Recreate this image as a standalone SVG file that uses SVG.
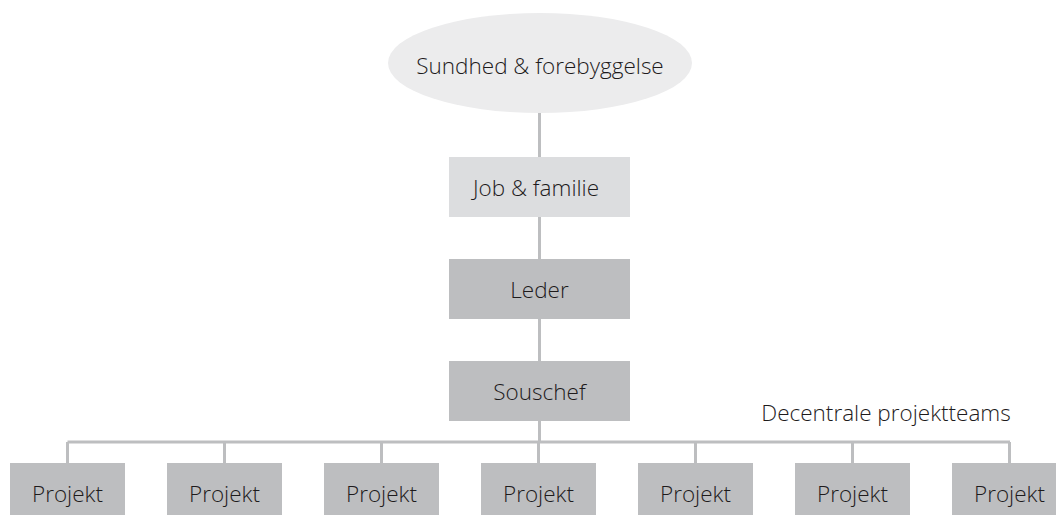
<svg xmlns="http://www.w3.org/2000/svg" width="1056" height="515" viewBox="0 0 1056 515">
  <style>
    .lbl { font-family: "Open Sans", "Noto Sans", sans-serif; font-size: 22.5px; font-weight: 300; fill: #1e1b1c; text-anchor: middle; }
    .oval { fill: #ececed; }
    .box-light { fill: #dcdddf; }
    .box { fill: #bdbec0; }
    .conn { stroke: #bdbec0; stroke-width: 3; fill: none; }
  </style>
  <rect width="1056" height="515" fill="#ffffff"/>
  <g id="connectors">
    <path class="conn" d="M539.5 112 V442"/>
    <path class="conn" d="M67.5 442 H1010"/>
    <path class="conn" d="M67.5 442 V463 M224.5 442 V463 M381.5 442 V463 M538.5 442 V463 M695.5 442 V463 M852.5 442 V463 M1009.5 442 V463"/>
  </g>
  <g id="sundhed">
    <ellipse class="oval" cx="540" cy="63" rx="152" ry="50"/>
    <text class="lbl" x="540" y="74">Sundhed &amp; forebyggelse</text>
  </g>
  <g id="job-familie">
    <rect class="box-light" x="449" y="157" width="181" height="60"/>
    <text class="lbl" x="536" y="196">Job &amp; familie</text>
  </g>
  <g id="leder">
    <rect class="box" x="449" y="259" width="181" height="60"/>
    <text class="lbl" x="539.5" y="298">Leder</text>
  </g>
  <g id="souschef">
    <rect class="box" x="449" y="361" width="181" height="60"/>
    <text class="lbl" x="539.5" y="400">Souschef</text>
  </g>
  <g id="team-label">
    <text class="lbl" x="886" y="421">Decentrale projektteams</text>
  </g>
  <g id="projekt-1"><rect class="box" x="10" y="463" width="115" height="55"/><text class="lbl" x="67.5" y="502">Projekt</text></g>
  <g id="projekt-2"><rect class="box" x="167" y="463" width="115" height="55"/><text class="lbl" x="224.5" y="502">Projekt</text></g>
  <g id="projekt-3"><rect class="box" x="324" y="463" width="115" height="55"/><text class="lbl" x="381.5" y="502">Projekt</text></g>
  <g id="projekt-4"><rect class="box" x="481" y="463" width="115" height="55"/><text class="lbl" x="538.5" y="502">Projekt</text></g>
  <g id="projekt-5"><rect class="box" x="638" y="463" width="115" height="55"/><text class="lbl" x="695.5" y="502">Projekt</text></g>
  <g id="projekt-6"><rect class="box" x="795" y="463" width="115" height="55"/><text class="lbl" x="852.5" y="502">Projekt</text></g>
  <g id="projekt-7"><rect class="box" x="952" y="463" width="115" height="55"/><text class="lbl" x="1009.5" y="502">Projekt</text></g>
</svg>
